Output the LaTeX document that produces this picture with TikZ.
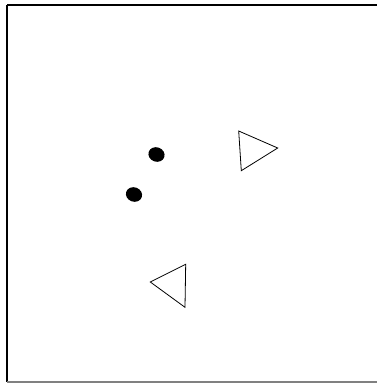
\documentclass[tikz,border=0pt]{standalone}
\usetikzlibrary{shapes,positioning}

\begin{document}
\begin{tikzpicture}[
    x=0.75pt, y=-0.75pt,
    frame/.style={draw=black, line width=0.8pt},
    dot/.style={fill=black, draw=none},
    tri/.style={draw=black, line width=0.6pt, line join=miter}
]
    \useasboundingbox (0,0) rectangle (377,383);
    \draw[frame] (7,5) -- (376.6,5);
    \draw[frame] (7,5) -- (7,382);
    \draw[draw=gray, line width=0.8pt] (7,382) -- (376.6,382);

    % dots
    \fill[dot, rotate around={-20:(156.5,154.5)}] (156.5,154.5) ellipse (8.2 and 7.2);
    \fill[dot, rotate around={-20:(134,194.5)}] (134,194.5) ellipse (8.2 and 7.2);

    % triangles
    \draw[tri] (238.7,131) -- (277.7,148) -- (241.3,170.7) -- cycle;
    \draw[tri] (185.7,264.3) -- (150.3,282) -- (185,307.3) -- cycle;
\end{tikzpicture}
\end{document}
